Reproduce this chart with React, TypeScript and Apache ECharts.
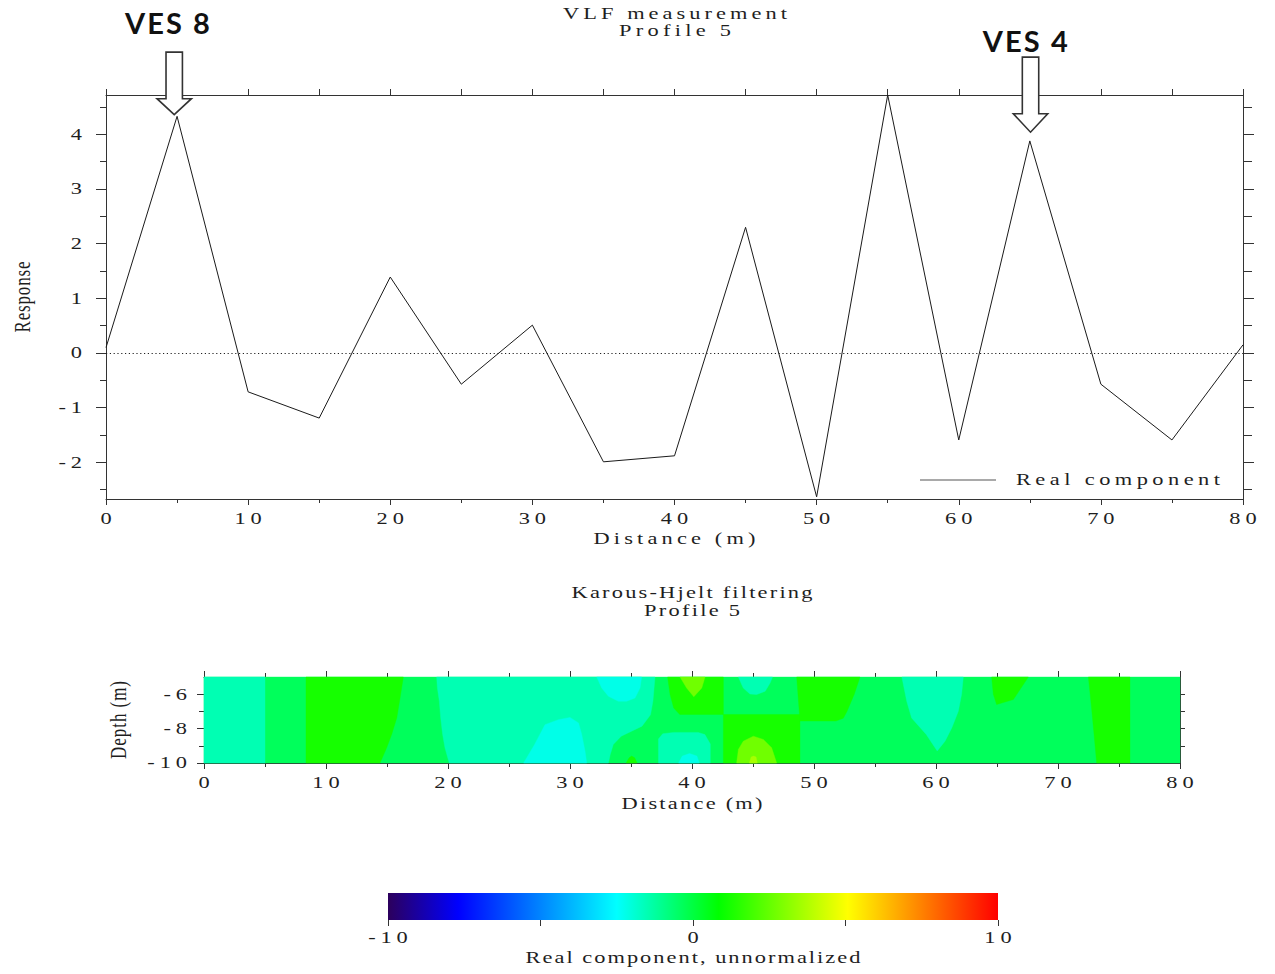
import React, { useEffect, useRef } from 'react';
import * as echarts from 'echarts';

// ---------------- VLF measurement, profile 5 ----------------
const DISTANCE = [0, 5, 10, 15, 20, 25, 30, 35, 40, 45, 50, 55, 60, 65, 70, 75, 80];
const RESPONSE = [0.1, 4.33, -0.71, -1.19, 1.39, -0.57, 0.51, -1.99, -1.88, 2.3, -2.63, 4.72, -1.59, 3.88, -0.57, -1.59, 0.15];
const RESPONSE_MIN = -2.67;
const RESPONSE_MAX = 4.72;
const RESPONSE_LABELS = [-2, -1, 0, 1, 2, 3, 4];
const RESPONSE_MINOR = [-2.5, -1.5, -0.5, 0.5, 1.5, 2.5, 3.5, 4.5];
const DIST_LABELS = [0, 10, 20, 30, 40, 50, 60, 70, 80];
const DIST_MINOR = [5, 15, 25, 35, 45, 55, 65, 75];
const DIST_ALL = [0, 5, 10, 15, 20, 25, 30, 35, 40, 45, 50, 55, 60, 65, 70, 75, 80];

const VES_NAMES = ['VES 8', 'VES 4'];
const VES_DISTANCE = [4.8, 65.05];
const VES_TIP_RESPONSE = [4.36, 4.04];

// ---------------- Karous-Hjelt filtering ----------------
const DEPTH_LABELS = [-10, -8, -6];
const DEPTH_MINOR = [-9, -7];
const DEPTH_RIGHT = [-9, -8, -7, -6];

const LV_CYAN = -2.2;
const LV_MINT = -1.5;
const LV_GREENMINT = -0.35;
const LV_GREEN = 1.2;
const LV_YELLOWGREEN = 2.7;
const LV_YELLOW = 3.6;

// filled contour regions: [distance, depth] outlines, painted in order
const KH_SHAPES: number[][][] = [
  [[0, -5], [80, -5], [80, -10], [0, -10]],
  [[0, -5], [5, -5], [5, -10], [0, -10]],
  [[19.07, -5], [36.97, -5], [36.8, -6.4], [36.6, -7.2], [35.9, -7.86], [35.05, -8.15], [34.2, -8.44], [33.55, -8.92], [33.3, -9.5], [33.15, -10], [20.1, -10], [19.75, -9.12], [19.56, -8.34], [19.4, -7.38], [19.29, -6.41], [19.13, -5.64]],
  [[37.25, -10], [37.25, -8.6], [37.6, -8.3], [38.5, -8.22], [40.5, -8.22], [41.06, -8.35], [41.5, -8.9], [41.5, -10]],
  [[43.8, -5], [44.2, -5.64], [44.75, -5.99], [45.3, -6.02], [46.0, -5.83], [46.4, -5.35], [46.6, -5]],
  [[57.2, -5], [57.6, -6.41], [58.0, -7.38], [59.2, -8.34], [60.1, -9.3], [60.74, -8.73], [61.3, -7.95], [61.83, -6.99], [62.1, -6.0], [62.24, -5]],
  [[26.2, -10], [27.1, -8.92], [27.95, -7.77], [29.05, -7.48], [30.0, -7.35], [30.7, -7.67], [30.96, -8.34], [31.23, -9.3], [31.37, -10]],
  [[32.19, -5], [32.6, -5.64], [33.15, -6.12], [33.96, -6.41], [34.64, -6.41], [35.33, -6.22], [35.74, -5.64], [35.87, -5]],
  [[38.9, -10], [39.2, -9.6], [39.8, -9.45], [40.4, -9.6], [40.6, -10]],
  [[8.36, -5], [16.34, -5], [16.07, -6.22], [15.8, -7.38], [15.38, -8.34], [14.97, -9.12], [14.43, -10], [8.36, -10]],
  [[34.6, -10], [34.85, -9.7], [35.05, -9.6], [35.3, -9.7], [35.5, -10]],
  [[38.0, -5], [42.57, -5], [42.57, -7.18], [39.0, -7.18], [38.5, -6.8], [38.2, -6.0]],
  [[42.57, -7.18], [48.85, -7.18], [48.85, -10], [42.57, -10]],
  [[48.58, -5], [53.77, -5], [53.3, -6.0], [52.7, -7.0], [52.4, -7.4], [51.8, -7.56], [48.85, -7.56]],
  [[64.56, -5], [64.7, -6.0], [64.97, -6.6], [66.34, -6.31], [67.57, -5]],
  [[72.49, -5], [75.9, -5], [75.9, -10], [73.17, -10], [72.95, -8.3], [72.75, -6.8]],
  [[39.02, -5], [39.56, -5.64], [40.15, -6.15], [40.8, -5.64], [41.07, -5]],
  [[43.66, -10], [43.8, -9.21], [44.2, -8.73], [45.03, -8.44], [45.85, -8.63], [46.53, -9.12], [46.94, -10]],
  [[44.7, -10], [44.85, -9.65], [45.05, -9.6], [45.25, -9.65], [45.35, -10]],
];
const KH_LEVELS = [
  LV_GREENMINT,
  LV_MINT, LV_MINT, LV_MINT, LV_MINT, LV_MINT,
  LV_CYAN, LV_CYAN, LV_CYAN,
  LV_GREEN, LV_GREEN, LV_GREEN, LV_GREEN, LV_GREEN, LV_GREEN, LV_GREEN,
  LV_YELLOWGREEN, LV_YELLOWGREEN,
  LV_YELLOW,
];

// ---------------- colour scale ----------------
const SCALE_VALUES = [-10, -7.7, -2.5, 0.84, 5.07, 10];
const SCALE_COLORS = ['#2c005c', '#0000ff', '#00ffff', '#00ff00', '#ffff00', '#ff0000'];
const SCALE_LABELS = [-10, 0, 10];
const SCALE_TICKS = [-10, -5, 0, 5, 10];

const SERIF = '"Liberation Serif", "Times New Roman", serif';
const AXIS_COLOR = '#333';
const TEXT_COLOR = '#1e1e1e';

function hexRgb(h: string) {
  return [parseInt(h.slice(1, 3), 16), parseInt(h.slice(3, 5), 16), parseInt(h.slice(5, 7), 16)];
}
function levelColor(v: number) {
  let i = 0;
  while (i < SCALE_VALUES.length - 2 && v > SCALE_VALUES[i + 1]) i++;
  const t = Math.max(0, Math.min(1, (v - SCALE_VALUES[i]) / (SCALE_VALUES[i + 1] - SCALE_VALUES[i])));
  const a = hexRgb(SCALE_COLORS[i]);
  const b = hexRgb(SCALE_COLORS[i + 1]);
  const c = a.map((x, k) => Math.round(x + (b[k] - x) * t));
  return `rgb(${c[0]},${c[1]},${c[2]})`;
}

const labelStyle = { fontFamily: SERIF, fontSize: 16, color: TEXT_COLOR };
const lineStyle = { color: AXIS_COLOR, width: 1 };

function tickAxis(gridIndex: number, position: string, min: number, max: number, values: number[], length: number, showLine: boolean) {
  return {
    type: 'value', gridIndex, position, min, max,
    splitLine: { show: false },
    axisLine: { show: showLine, onZero: false, lineStyle },
    axisTick: { show: true, inside: false, length, customValues: values, lineStyle },
    axisLabel: { show: false },
  };
}

function buildOption(): any {
  const xAxis: any[] = [
    {
      ...tickAxis(0, 'bottom', 0, 80, DIST_LABELS, 6, true),
      axisLabel: { show: true, customValues: DIST_LABELS, margin: 12, ...labelStyle },
      name: 'Distance (m)', nameLocation: 'middle', nameGap: 32, nameTextStyle: labelStyle,
    },
    tickAxis(0, 'bottom', 0, 80, DIST_MINOR, 4, false),
    tickAxis(0, 'top', 0, 80, DIST_ALL, 6, true),
    {
      ...tickAxis(1, 'bottom', 0, 80, DIST_LABELS, 6, true),
      axisLabel: { show: true, customValues: DIST_LABELS, margin: 12, ...labelStyle },
      name: 'Distance (m)', nameLocation: 'middle', nameGap: 33, nameTextStyle: labelStyle,
    },
    tickAxis(1, 'bottom', 0, 80, DIST_MINOR, 4, false),
    tickAxis(1, 'top', 0, 80, DIST_LABELS, 6, true),
    tickAxis(1, 'top', 0, 80, DIST_MINOR, 4, false),
    {
      ...tickAxis(2, 'bottom', -10, 10, SCALE_TICKS, 6, false),
      axisLabel: { show: true, customValues: SCALE_LABELS, margin: 10, ...labelStyle },
      name: 'Real component, unnormalized', nameLocation: 'middle', nameGap: 30, nameTextStyle: labelStyle,
    },
  ];
  const yAxis: any[] = [
    {
      ...tickAxis(0, 'left', RESPONSE_MIN, RESPONSE_MAX, RESPONSE_LABELS, 10, true),
      axisLabel: { show: true, customValues: RESPONSE_LABELS, margin: 24, ...labelStyle },
      name: 'Response', nameLocation: 'middle', nameGap: 75, nameRotate: 90,
      nameTextStyle: { ...labelStyle, fontSize: 17 },
    },
    tickAxis(0, 'left', RESPONSE_MIN, RESPONSE_MAX, RESPONSE_MINOR, 6, false),
    tickAxis(0, 'right', RESPONSE_MIN, RESPONSE_MAX, RESPONSE_LABELS, 11, true),
    tickAxis(0, 'right', RESPONSE_MIN, RESPONSE_MAX, RESPONSE_MINOR, 9, false),
    {
      ...tickAxis(1, 'left', -10, -5, DEPTH_LABELS, 7, true),
      axisLabel: { show: true, customValues: DEPTH_LABELS, margin: 17, ...labelStyle },
      name: 'Depth (m)', nameLocation: 'middle', nameGap: 77, nameRotate: 90,
      nameTextStyle: { ...labelStyle, fontSize: 17 },
    },
    tickAxis(1, 'left', -10, -5, DEPTH_MINOR, 5, false),
    tickAxis(1, 'right', -10, -5, DEPTH_RIGHT, 5, true),
    { type: 'value', gridIndex: 2, min: 0, max: 1, show: false },
  ];

  const titleStyle = { fontFamily: SERIF, fontSize: 16, fontWeight: 'normal', color: TEXT_COLOR, lineHeight: 16 };
  const gradientStops = SCALE_VALUES.map((v, i) => ({
    offset: (v - SCALE_VALUES[0]) / (SCALE_VALUES[SCALE_VALUES.length - 1] - SCALE_VALUES[0]),
    color: SCALE_COLORS[i],
  }));

  return {
    animation: false,
    backgroundColor: '#ffffff',
    title: [
      { text: 'VLF measurement', left: 675, top: 6, textAlign: 'center', padding: 0, textStyle: titleStyle },
      { text: 'Profile 5', left: 675, top: 23, textAlign: 'center', padding: 0, textStyle: titleStyle },
      { text: 'Karous-Hjelt filtering', left: 692, top: 585, textAlign: 'center', padding: 0, textStyle: titleStyle },
      { text: 'Profile 5', left: 692, top: 603, textAlign: 'center', padding: 0, textStyle: titleStyle },
    ],
    legend: {
      data: ['Real component'],
      left: 920, top: 472, padding: 0, icon: 'rect', itemWidth: 76, itemHeight: 1, selectedMode: false,
      itemStyle: { color: '#555555' },
      textStyle: { ...labelStyle, padding: [0, 0, 0, 15] },
    },
    grid: [
      { left: 106, top: 95, width: 1137, height: 404 },
      { left: 204, top: 677, width: 976, height: 86 },
      { left: 388, top: 893, width: 610, height: 27 },
    ],
    xAxis,
    yAxis,
    series: [
      {
        type: 'line', name: 'Real component', xAxisIndex: 0, yAxisIndex: 0,
        data: DISTANCE.map((d, i) => [d, RESPONSE[i]]),
        symbol: 'none', showSymbol: false, silent: true,
        color: '#1a1a1a', lineStyle: { color: '#1a1a1a', width: 1 },
        markLine: {
          silent: true, symbol: ['none', 'none'], label: { show: false },
          lineStyle: { color: '#222', width: 1, type: [1.2, 2.6] },
          data: [{ yAxis: 0 }],
        },
      },
      {
        type: 'custom', name: 'Karous-Hjelt', xAxisIndex: 3, yAxisIndex: 4, silent: true,
        data: KH_SHAPES.map((s, i) => [s[0][0], s[0][1], KH_LEVELS[i]]),
        renderItem: (params: any, api: any) => {
          const i = params.dataIndex;
          const pts = KH_SHAPES[i].map((p) => api.coord(p));
          const c = levelColor(KH_LEVELS[i]);
          return { type: 'polygon', shape: { points: pts }, style: { fill: c, stroke: c, lineWidth: 0.4 } };
        },
      },
      {
        type: 'custom', name: 'scale', xAxisIndex: 7, yAxisIndex: 7, silent: true,
        data: [[SCALE_VALUES[0], 0]],
        renderItem: (params: any, api: any) => {
          const p0 = api.coord([SCALE_VALUES[0], 1]);
          const p1 = api.coord([SCALE_VALUES[SCALE_VALUES.length - 1], 0]);
          return {
            type: 'rect',
            shape: { x: p0[0], y: p0[1], width: p1[0] - p0[0], height: p1[1] - p0[1] },
            style: { fill: new echarts.graphic.LinearGradient(0, 0, 1, 0, gradientStops) },
          };
        },
      },
    ],
  };
}

// text fitting (width of the stretched, letter-spaced lettering in the figure)
type Fit = { w: number; sx?: number; sy?: number };
const TEXT_FIT: Record<string, Fit[]> = {
  'VLF measurement': [{ w: 224 }],
  'Profile 5': [{ w: 112 }, { w: 96 }],
  'Karous-Hjelt filtering': [{ w: 241 }],
  'Distance (m)': [{ w: 162 }, { w: 141 }],
  'Real component': [{ w: 204 }],
  'Real component, unnormalized': [{ w: 335 }],
  Response: [{ w: 71, sx: 1, sy: 1.3 }],
  'Depth (m)': [{ w: 78, sx: 1, sy: 1.3 }],
  'VES 8': [{ w: 85, sx: 1 }],
  'VES 4': [{ w: 85, sx: 1 }],
};

function fitTexts(root: HTMLElement) {
  const nodes = Array.from(root.querySelectorAll('svg text')) as SVGTextElement[];
  nodes.forEach((el) => {
    const content = el.textContent || '';
    if (!content.trim()) return;
    const n = content.length;
    const natural = el.getComputedTextLength();
    let sx = 1.4;
    let sy = 1;
    let ls = 0;
    const fits = TEXT_FIT[content];
    if (fits) {
      const top = el.getBoundingClientRect().top;
      const fit = fits.length > 1 && top > 560 ? fits[1] : fits[0];
      sx = fit.sx ?? 1.4;
      sy = fit.sy ?? 1;
      ls = n > 1 ? (fit.w / sx - natural) / (n - 1) : 0;
    } else if (/^-?\d+$/.test(content)) {
      sx = 1.4;
      ls = 3.5;
    } else {
      return;
    }
    el.style.letterSpacing = `${ls}px`;
    const anchor = el.getAttribute('text-anchor') || getComputedStyle(el).textAnchor || 'start';
    const dx = anchor === 'middle' ? ls / 2 : anchor === 'end' ? ls : 0;
    const x = parseFloat(el.getAttribute('x') || '0') || 0;
    const y = parseFloat(el.getAttribute('y') || '0') || 0;
    const orig = el.getAttribute('transform') || '';
    el.setAttribute('transform', `${orig} translate(${x} ${y}) scale(${sx} ${sy}) translate(${-x + dx} ${-y})`);
  });
}

const ARROW_LENGTH = [62.6, 75];
const ARROW_HEAD = [16, 18.4];
const LABEL_DX = [-6.8, -5.2];

export default function App() {
  const ref = useRef<HTMLDivElement>(null);
  useEffect(() => {
    const el = ref.current!;
    const chart = echarts.init(el, null, { renderer: 'svg' });
    chart.setOption(buildOption());
    const graphic: any[] = [];
    VES_NAMES.forEach((name, i) => {
      const [tx, ty] = chart.convertToPixel({ xAxisIndex: 0, yAxisIndex: 0 } as any, [VES_DISTANCE[i], VES_TIP_RESPONSE[i]]) as number[];
      const L = ARROW_LENGTH[i];
      const H = ARROW_HEAD[i];
      const sw = 8.2;
      const hw = 17.2;
      graphic.push({
        type: 'polygon', silent: true, z: 100,
        shape: { points: [[tx - sw, ty - L], [tx + sw, ty - L], [tx + sw, ty - H], [tx + hw, ty - H], [tx, ty], [tx - hw, ty - H], [tx - sw, ty - H]] },
        style: { fill: '#ffffff', stroke: '#333333', lineWidth: 1.6 },
      });
      graphic.push({
        type: 'text', silent: true, z: 100, x: tx + LABEL_DX[i], y: ty - 92,
        style: {
          text: name, fontFamily: 'Lato, "Open Sans", sans-serif', fontWeight: 'bold', fontSize: 29,
          fill: '#111111', align: 'center', verticalAlign: 'middle', textAlign: 'center', textVerticalAlign: 'middle',
        },
      });
    });
    chart.setOption({ graphic });
    fitTexts(el);
    return () => chart.dispose();
  }, []);
  return <div ref={ref} style={{ position: 'fixed', left: 0, top: 0, width: 1275, height: 974, background: '#fff' }} />;
}
